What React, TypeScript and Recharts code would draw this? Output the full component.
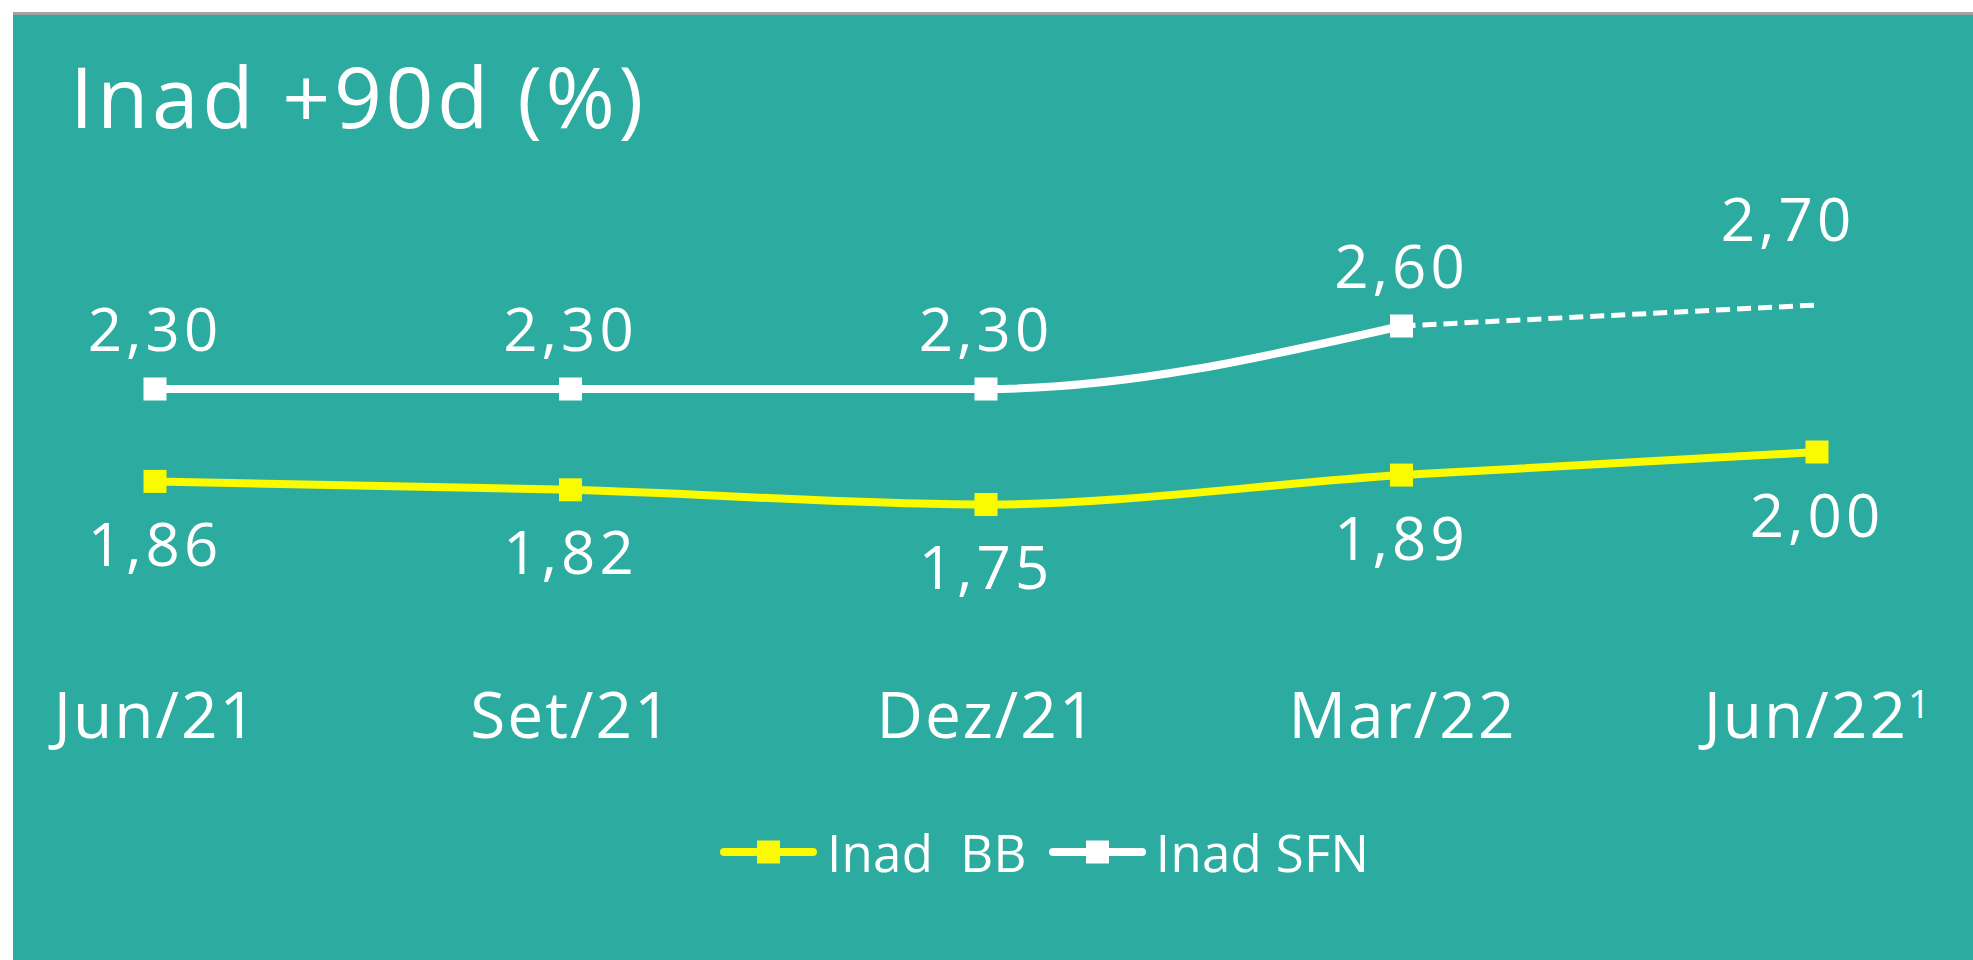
import { LineChart, Line, XAxis, YAxis, Legend, LabelList } from 'recharts';

// data
const categories = ['Jun/21', 'Set/21', 'Dez/21', 'Mar/22', 'Jun/22'];
const tickNotes = ['', '', '', '', '1'];
const inadBB = [1.86, 1.82, 1.75, 1.89, 2.0];
const inadSFN = [2.3, 2.3, 2.3, 2.6, null];
const inadSFNProj = [null, null, null, 2.6, 2.7];

const data = categories.map((month, i) => ({
  month,
  bb: inadBB[i],
  sfn: inadSFN[i],
  sfnProj: inadSFNProj[i],
}));

const TEAL = '#2CACA0';
const YELLOW = '#FAFA00';
const WHITE = '#FFFFFF';
const FONT = "'Open Sans', sans-serif";

const fmt = (v: any) => (v == null ? '' : Number(v).toFixed(2).replace('.', ','));

const squareDot = (color: string) => (props: any) => {
  const { cx, cy, index, value } = props;
  if (cx == null || cy == null || value == null) return <g key={`d-${index}`} />;
  return <rect key={`d-${index}`} x={cx - 11.5} y={cy - 11.5} width={23} height={23} fill={color} />;
};

const MonthTick = ({ x, y, payload, index }: any) => {
  const note = tickNotes[index ?? payload.index];
  return (
    <text x={x + 1} y={y + 76} textAnchor="middle" fill={WHITE} fontSize={64} fontFamily={FONT} letterSpacing={2}>
      {payload.value}
      {note ? <tspan fontSize={39} dy={-20}>{note}</tspan> : null}
    </text>
  );
};

// only the last point of the projection gets a label
const ProjLabel = (props: any) => {
  const vb = props.viewBox || {};
  const x = props.x ?? vb.x;
  const y = props.y ?? vb.y;
  if (props.index !== categories.length - 1 || x == null) return <g />;
  return (
    <text x={x - 29} y={y - 64} textAnchor="middle" fill={WHITE} fontSize={60} fontFamily={FONT} letterSpacing={4}>
      {fmt(props.value)}
    </text>
  );
};

const renderLegend = ({ payload }: any) => (
  <div style={{ display: 'flex', alignItems: 'center', fontFamily: FONT, fontSize: 51, color: WHITE }}>
    {(payload || [])
      .filter((entry: any) => entry.type !== 'none')
      .map((entry: any, i: number) => (
        <div key={i} style={{ display: 'flex', alignItems: 'center', marginRight: 22 }}>
          <svg width={97} height={24}>
            <line x1={4} y1={12} x2={93} y2={12} stroke={entry.color} strokeWidth={8} strokeLinecap="round" />
            <rect x={37} y={0.5} width={23} height={23} fill={entry.color} />
          </svg>
          <span style={{ marginLeft: 10, whiteSpace: 'pre', letterSpacing: 0.3 }}>{entry.value}</span>
        </div>
      ))}
  </div>
);

export default function App() {
  return (
    <div style={{ position: 'absolute', left: 0, top: 0, width: 1973, height: 960, background: '#fff', overflow: 'hidden' }}>
      <div style={{ position: 'absolute', left: 13, top: 12, width: 1960, height: 3, background: '#A3A3A3' }} />
      <div style={{ position: 'absolute', left: 13, top: 15, width: 1960, height: 945, background: TEAL }} />
      <div
        style={{
          position: 'absolute',
          left: 70,
          top: 54,
          fontFamily: FONT,
          fontSize: 84,
          lineHeight: '84px',
          letterSpacing: 3.5,
          color: WHITE,
          whiteSpace: 'pre',
        }}
      >
        Inad +90d (%)
      </div>
      <div style={{ position: 'absolute', left: 0, top: 0 }}>
        <LineChart width={1973} height={960} data={data} margin={{ top: 242, right: 156, bottom: 238, left: 155 }}>
          <XAxis
            dataKey="month"
            axisLine={false}
            tickLine={false}
            tickSize={0}
            tickMargin={0}
            height={60}
            interval={0}
            tick={(p: any) => <MonthTick {...p} />}
          />
          <YAxis hide width={0} domain={[1, 3]} />
          <Legend
            layout="horizontal"
            verticalAlign="middle"
            align="center"
            wrapperStyle={{ left: 720, top: 817, width: 760, height: 70 }}
            content={renderLegend}
          />
          <Line
            dataKey="bb"
            name="Inad  BB"
            type="monotone"
            stroke={YELLOW}
            strokeWidth={8}
            dot={squareDot(YELLOW)}
            activeDot={false}
            isAnimationActive={false}
          >
            <LabelList
              dataKey="bb"
              position="bottom"
              offset={42}
              formatter={fmt}
              fill={WHITE}
              fontSize={60}
              fontFamily={FONT}
              letterSpacing={4}
            />
          </Line>
          <Line
            dataKey="sfnProj"
            type="linear"
            legendType="none"
            stroke={WHITE}
            strokeWidth={5}
            strokeDasharray="14 7"
            dot={false}
            activeDot={false}
            isAnimationActive={false}
          >
            <LabelList dataKey="sfnProj" content={<ProjLabel />} />
          </Line>
          <Line
            dataKey="sfn"
            name="Inad SFN"
            type="monotone"
            stroke={WHITE}
            strokeWidth={8}
            dot={squareDot(WHITE)}
            activeDot={false}
            isAnimationActive={false}
          >
            <LabelList
              dataKey="sfn"
              position="top"
              offset={38}
              formatter={fmt}
              fill={WHITE}
              fontSize={60}
              fontFamily={FONT}
              letterSpacing={4}
            />
          </Line>
        </LineChart>
      </div>
    </div>
  );
}
